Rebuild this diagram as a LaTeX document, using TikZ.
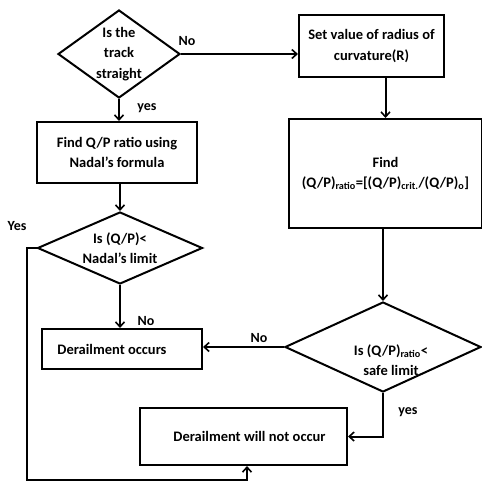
\documentclass[tikz,border=0pt]{standalone}
\usepackage{fontspec}
\setmainfont{Carlito}
\usetikzlibrary{shapes.geometric,arrows.meta}
\begin{document}
\begin{tikzpicture}[x=1pt,y=-1pt,
  font=\fontsize{14.5}{20.5}\selectfont\bfseries,
  every path/.style={line width=2pt},
  box/.style={draw,rectangle,align=center,inner sep=2pt},
  decision/.style={draw,diamond,inner sep=0pt},
  flow/.style={-{Straight Barb[length=5pt,width=9pt,line width=1.6pt]}},
  tag/.style={font=\fontsize{14}{16}\selectfont\bfseries}]
\useasboundingbox (0,0) rectangle (482,483);
% decisions
\node[decision,minimum width=122pt,minimum height=88pt,
  label={[align=center]center:Is the\\track\\straight}] (track) at (119,54) {};
\node[decision,minimum width=165pt,minimum height=72pt,
  label={[align=center]center:Is (Q/P)<\\Nadal’s limit}] (nadal) at (120,248) {};
\node[decision,minimum width=196pt,minimum height=90pt,
  label={[align=center,xshift=8pt,yshift=-13pt]center:Is (Q/P)\textsubscript{ratio}<\\safe limit}] (safe) at (383,347) {};
% boxes
\node[box,minimum width=145pt,minimum height=62pt] (radius) at (371.5,46) {Set value of radius of\\curvature(R)};
\node[box,minimum width=193pt,minimum height=109pt] (ratio) at (385.5,173.5)
  {Find\\(Q/P)\textsubscript{ratio}=[(Q/P)\textsubscript{crit.}/(Q/P)\textsubscript{o}]};
\node[box,minimum width=160pt,minimum height=61pt] (formula) at (117,152.5) {Find Q/P ratio using\\Nadal’s formula};
\node[box,minimum width=160pt,minimum height=40pt] (occurs) at (122,349) {\hspace*{-20pt}Derailment occurs};
\node[box,minimum width=207pt,minimum height=57pt] (notocc) at (243.5,436.5) {\hspace*{12pt}Derailment will not occur};
% connectors
\draw[flow] (track.east) -- (track.east -| radius.west);
\draw[flow] (ratio.north |- radius.south) -- (ratio.north);
\draw[flow] (track.south) -- (track.south |- formula.north);
\draw[flow] (nadal.north |- formula.south) -- (nadal.north);
\draw[flow] (nadal.south) -- (nadal.south |- occurs.north);
\draw[flow] (safe.north |- ratio.south) -- (safe.north);
\draw[flow] (safe.west) -- (safe.west -| occurs.east);
\draw[flow] (safe.south) |- (notocc.east);
\coordinate (loop) at (27,480);
\draw[flow] (nadal.west) -| (loop) -| ([xshift=3.5pt]notocc.south);
% labels
\node[tag] (tno1) at (187,41) {No};
\node[tag] (tyes1) at (147,108) {yes};
\node[tag] (tyes2) at (17,226) {Yes};
\node[tag] (tno2) at (146,321) {No};
\node[tag] (tno3) at (259,338) {No};
\node[tag] (tyes3) at (408,412) {yes};
\end{tikzpicture}
\end{document}
